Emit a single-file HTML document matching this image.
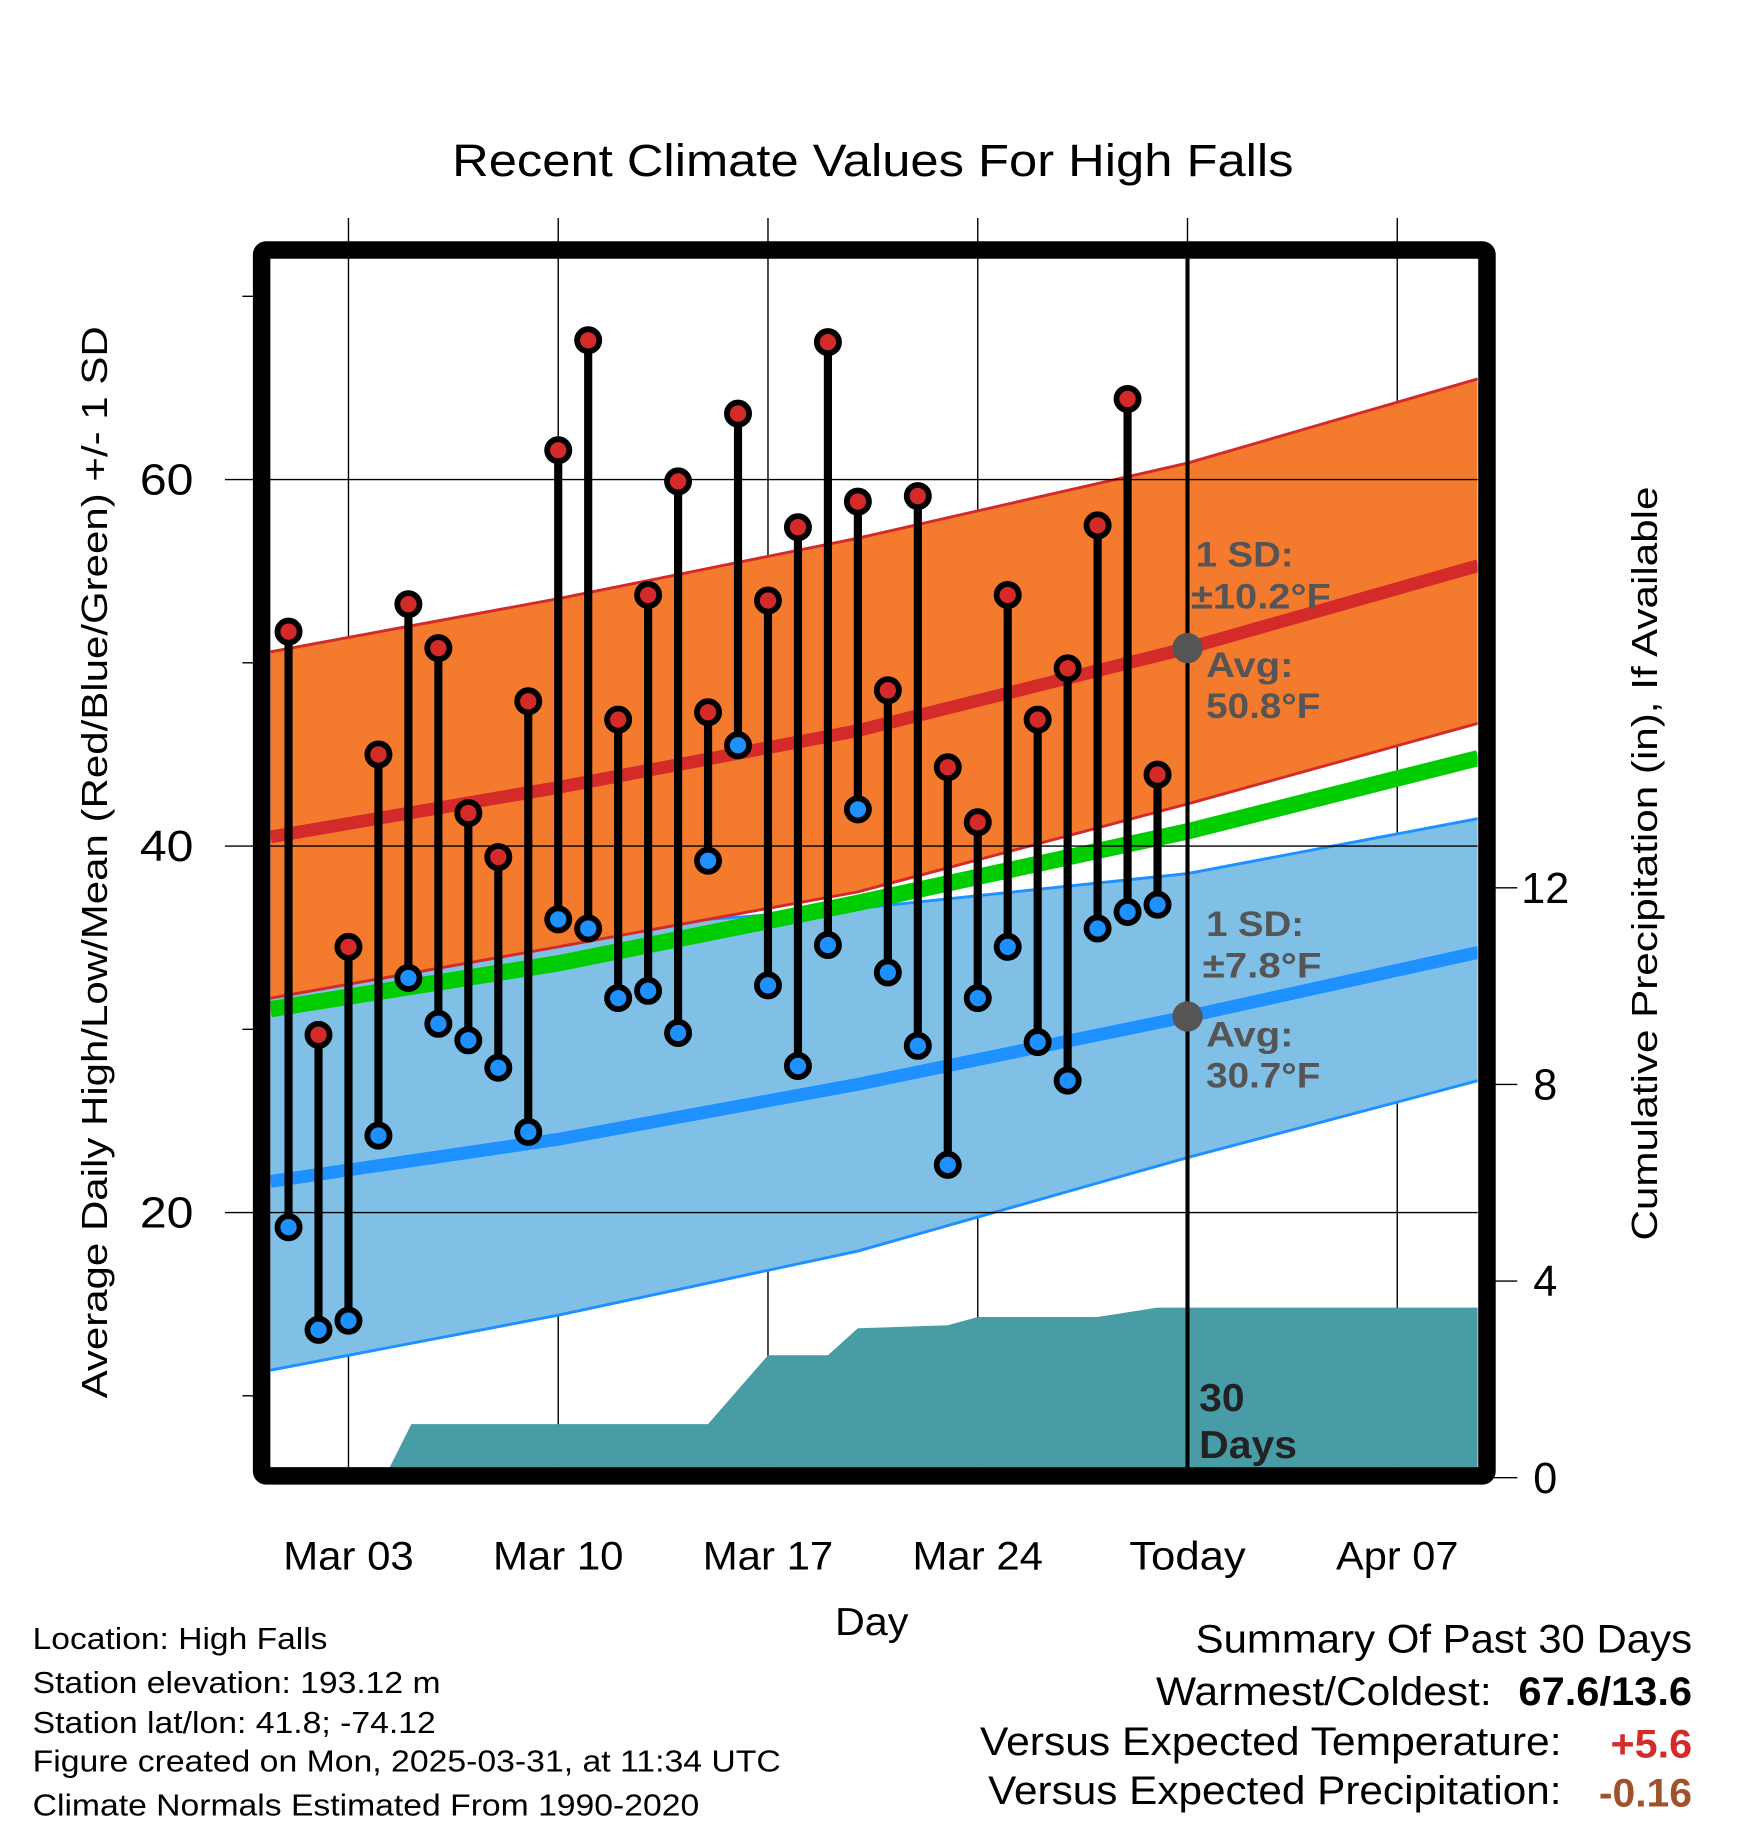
<!DOCTYPE html>
<html><head><meta charset="utf-8"><style>
html,body{margin:0;padding:0;background:#fff;}
svg{display:block;font-family:"Liberation Sans",Arial,sans-serif;}
</style></head><body>
<svg id="chart" width="1748" height="1828" viewBox="0 0 1500 1568.6" xmlns="http://www.w3.org/2000/svg">
<rect width="1500" height="1568.6" fill="#fff"/>
<text x="749" y="151" font-size="39" text-anchor="middle" textLength="722" lengthAdjust="spacingAndGlyphs">Recent Climate Values For High Falls</text>
<g id="grid"></g>
<g id="plot"></g>
<text transform="translate(92,740) rotate(-90)" font-size="31" text-anchor="middle" textLength="920" lengthAdjust="spacingAndGlyphs">Average Daily High/Low/Mean (Red/Blue/Green) +/- 1 SD</text>
<text transform="translate(1422,741) rotate(-90)" font-size="31" text-anchor="middle" textLength="647" lengthAdjust="spacingAndGlyphs">Cumulative Precipitation (in), If Available</text>
<text x="748" y="1403" font-size="33" text-anchor="middle" textLength="63" lengthAdjust="spacingAndGlyphs">Day</text>
<g font-size="26">
<text x="28" y="1415" textLength="253" lengthAdjust="spacingAndGlyphs">Location: High Falls</text>
<text x="28" y="1453" textLength="350" lengthAdjust="spacingAndGlyphs">Station elevation: 193.12 m</text>
<text x="28" y="1487" textLength="346" lengthAdjust="spacingAndGlyphs">Station lat/lon: 41.8; -74.12</text>
<text x="28" y="1520" textLength="642" lengthAdjust="spacingAndGlyphs">Figure created on Mon, 2025-03-31, at 11:34 UTC</text>
<text x="28" y="1558" textLength="572" lengthAdjust="spacingAndGlyphs">Climate Normals Estimated From 1990-2020</text>
</g>
<g font-size="34" text-anchor="end">
<text x="1452" y="1418" textLength="426" lengthAdjust="spacingAndGlyphs">Summary Of Past 30 Days</text>
<text x="1280" y="1463" textLength="288" lengthAdjust="spacingAndGlyphs">Warmest/Coldest:</text>
<text x="1452" y="1463" font-weight="bold" textLength="149" lengthAdjust="spacingAndGlyphs">67.6/13.6</text>
<text x="1340" y="1506" textLength="499" lengthAdjust="spacingAndGlyphs">Versus Expected Temperature:</text>
<text x="1452" y="1508" font-weight="bold" fill="#d42a2a" textLength="70" lengthAdjust="spacingAndGlyphs">+5.6</text>
<text x="1340" y="1548" textLength="492" lengthAdjust="spacingAndGlyphs">Versus Expected Precipitation:</text>
<text x="1452" y="1550" font-weight="bold" fill="#a0522d" textLength="80" lengthAdjust="spacingAndGlyphs">-0.16</text>
</g>
</svg>
<script>
// data
const days = [1,2,3,4,5,6,7,8,9,10,11,12,13,14,15,16,17,18,19,20,21,22,23,24,25,26,27,28,29,30];
const highs = [51.7,29.7,34.5,45.0,53.2,50.8,41.8,39.4,47.9,61.6,67.6,46.9,53.7,59.9,47.3,63.6,53.4,57.4,67.5,58.8,48.5,59.1,44.3,41.3,53.7,46.9,49.7,57.5,64.4,43.9];
const lows = [19.2,13.6,14.1,24.2,32.8,30.3,29.4,27.9,24.4,36.0,35.5,31.7,32.1,29.8,39.2,45.5,32.4,28.0,34.6,42.0,33.1,29.1,22.6,31.7,34.5,29.3,27.2,35.5,36.4,36.8];
const normDays = [0.4,10,20,31,40.7];
const avgHigh = [40.5,43.2,46.3,50.8,55.3];
const highUpper = [50.6,53.5,56.8,60.9,65.5];
const highLower = [31.7,34.5,37.5,42.3,46.7];
const avgMean = [31.1,33.6,36.9,40.8,44.8];
const avgLow = [21.7,24.0,27.0,30.7,34.2];
const lowUpper = [31.8,35.4,36.6,38.5,41.5];
const lowLower = [11.4,14.4,17.9,23.0,27.2];
const precipDays = [0.4,4.2,5.1,15,17,19,20,23,24,28,30,40.7];
const precipCum = [0,0,1.09,1.09,2.49,2.49,3.04,3.10,3.27,3.27,3.46,3.46];
const xTickDays = [3,10,17,24,31,38];
const xTickLabels = ["Mar 03","Mar 10","Mar 17","Mar 24","Today","Apr 07"];
const yTicks = [20,40,60];
const yMinor = [10,30,50,70];
const pTicks = [0,4,8,12];

const NS="http://www.w3.org/2000/svg";
const L=232,R=1268,T=222,B=1259;
function x(d){return 247.6+(d-1)*25.714;}
function y(v){return 726-(v-40)*15.725;}
function py(p){return 1268-p*42.18;}
function mk(tag,attrs,parent){const e=document.createElementNS(NS,tag);for(const k in attrs)e.setAttribute(k,attrs[k]);parent.appendChild(e);return e;}
const grid=document.getElementById('grid'), plot=document.getElementById('plot');

const defs=mk('defs',{},plot);
const cp=mk('clipPath',{id:'clip'},defs);
mk('rect',{x:L,y:T,width:R-L,height:B-T},cp);
const cg=mk('g',{'clip-path':'url(#clip)'},plot);

function band(up,lo,fill,name){
  let d='M'+normDays.map((dd,i)=>x(dd)+','+y(up[i])).join(' L');
  for(let i=normDays.length-1;i>=0;i--) d+=' L'+x(normDays[i])+','+y(lo[i]);
  const p=mk('path',{d:d+'Z',fill:fill},cg);
  
  
}
function line(arr,color,w,name){
  const p=mk('path',{d:'M'+normDays.map((dd,i)=>x(dd)+','+y(arr[i])).join(' L'),fill:'none',stroke:color,'stroke-width':w},cg);
  
  
}
band(lowUpper,lowLower,'#80c0e6','low-sd-band');
line(lowUpper,'#1e90ff',2.5,'low-sd-upper');
line(lowLower,'#1e90ff',2.5,'low-sd-lower');
band(highUpper,highLower,'#f47a2e','high-sd-band');
line(highUpper,'#d42a2a',2.5,'high-sd-upper');
line(highLower,'#d42a2a',2.5,'high-sd-lower');
line(avgMean,'#00cc00',14,'avg-mean-line');
line(avgHigh,'#d42a2a',11,'avg-high-line');
line(avgLow,'#1e90ff',11,'avg-low-line');

let pd='M'+x(precipDays[0])+','+py(0);
precipDays.forEach((dd,i)=>{pd+=' L'+x(dd)+','+py(precipCum[i]);});
pd+=' L'+x(precipDays[precipDays.length-1])+','+py(0)+'Z';
const pa=mk('path',{d:pd,fill:'#489ca6'},cg);



const xLabW=[112,112,112,112,100,105];
xTickDays.forEach((dd,i)=>{
  const gl=mk('line',{x1:x(dd),x2:x(dd),y1:187,y2:B,stroke:'#000','stroke-width':1.2},grid);
  
  
  const t=mk('text',{x:x(dd),y:1347,'font-size':34,'text-anchor':'middle',textLength:xLabW[i],lengthAdjust:'spacingAndGlyphs'},plot);
  t.textContent=xTickLabels[i];
  
  
});
yTicks.forEach(v=>{
  const gl=mk('line',{x1:193,x2:R,y1:y(v),y2:y(v),stroke:'#000','stroke-width':1.2},plot);
  
  
  const t=mk('text',{x:166,y:y(v)+13,'font-size':37,'text-anchor':'end',textLength:46,lengthAdjust:'spacingAndGlyphs'},plot);
  t.textContent=v;
  
  
});
yMinor.forEach(v=>{
  const tk=mk('line',{x1:208,x2:220,y1:y(v),y2:y(v),stroke:'#000','stroke-width':1.2},plot);
  
  
});
pTicks.forEach(p=>{
  const tk=mk('line',{x1:1282,x2:1302,y1:py(p),y2:py(p),stroke:'#000','stroke-width':1.2},plot);
  
  
  const t=mk('text',{x:1326,y:py(p)+13,'font-size':37,'text-anchor':'middle'},plot);
  t.textContent=p;
  
  
});

const tl=mk('line',{x1:x(31),x2:x(31),y1:T,y2:B,stroke:'#000','stroke-width':3.5},plot);



days.forEach((dd,i)=>{
  const s=mk('line',{x1:x(dd),x2:x(dd),y1:y(highs[i]),y2:y(lows[i]),stroke:'#000','stroke-width':7},plot);
  
  
});
days.forEach((dd,i)=>{
  const h=mk('circle',{cx:x(dd),cy:y(highs[i]),r:9.5,fill:'#d42a2a',stroke:'#000','stroke-width':5},plot);
  
  
  const l=mk('circle',{cx:x(dd),cy:y(lows[i]),r:9.5,fill:'#1e90ff',stroke:'#000','stroke-width':5},plot);
  
  
});

[50.8,30.7].forEach(v=>{
  const c=mk('circle',{cx:x(31),cy:y(v),r:13,fill:'#555'},plot);
  
  
});
const ann=[["1 SD:",1026,486,84],["\u00b110.2\u00b0F",1022,522,120],["Avg:",1035,581,75],["50.8\u00b0F",1035,616,98],["1 SD:",1035,803,84],["\u00b17.8\u00b0F",1032,839,102],["Avg:",1035,898,75],["30.7\u00b0F",1035,933,98]];
ann.forEach(a=>{
  const t=mk('text',{x:a[1],y:a[2],'font-size':30,'font-weight':'bold',fill:'#555',textLength:a[3],lengthAdjust:'spacingAndGlyphs'},plot);
  t.textContent=a[0];
  
  
});
[["30",1211,39],["Days",1251,84]].forEach(a=>{
  const t=mk('text',{x:1029,y:a[1],'font-size':33,'font-weight':'bold',fill:'#222',textLength:a[2],lengthAdjust:'spacingAndGlyphs'},plot);
  t.textContent=a[0];
  
  
});

const fr=mk('rect',{x:224.5,y:214.5,width:1051.5,height:1052,fill:'none',stroke:'#000','stroke-width':15,rx:4},plot);


</script>
</body></html>
